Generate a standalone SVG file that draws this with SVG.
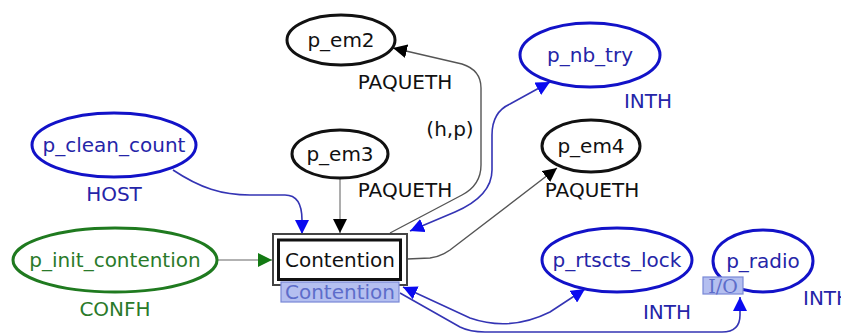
<svg xmlns="http://www.w3.org/2000/svg" width="841" height="334" viewBox="0 0 841 334">
<defs>
<style>
text{font-family:"DejaVu Sans",Verdana,sans-serif;font-size:20px}
.pb{fill:none;stroke:#1212c8;stroke-width:3}
.pk{fill:none;stroke:#111;stroke-width:3}
.pg{fill:none;stroke:#1f7a1f;stroke-width:3}
.tb{fill:#2525a8}
.tk{fill:#111}
.tg{fill:#2a7a2a}
.lb{fill:none;stroke:#3434b4;stroke-width:1.6}
.lk{fill:none;stroke:#555;stroke-width:1.4}
.lgr{fill:none;stroke:#999;stroke-width:1.6}
.tag{fill:#b4bff0;stroke:#7888d6;stroke-width:1.2}
.tagt{fill:#5d6dca}
</style>
<marker id="ab" markerUnits="userSpaceOnUse" markerWidth="14" markerHeight="14" viewBox="0 0 14 14" refX="14" refY="7" orient="auto-start-reverse"><path d="M0,0 L14,7 L0,14 z" fill="#0a0af0"/></marker>
<marker id="ak" markerUnits="userSpaceOnUse" markerWidth="14" markerHeight="14" viewBox="0 0 14 14" refX="14" refY="7" orient="auto-start-reverse"><path d="M0,0 L14,7 L0,14 z" fill="#000"/></marker>
<marker id="ag" markerUnits="userSpaceOnUse" markerWidth="14" markerHeight="14" viewBox="0 0 14 14" refX="14" refY="7" orient="auto-start-reverse"><path d="M0,0 L14,7 L0,14 z" fill="#137a13"/></marker>
</defs>
<rect width="841" height="334" fill="#fff"/>
<g id="connectors">
<path class="lb" d="M173,170 C200,188 222,195 250,195 L285,195 C298,195 302,206 302,220 L302,234" marker-end="url(#ab)"/>
<path class="lgr" d="M340,178 L340,233" marker-end="url(#ak)"/>
<path class="lgr" d="M217,260 L272,260" marker-end="url(#ag)"/>
<path class="lk" d="M390,233 L462,195 Q481,185 481,165 L481,88 Q481,70 462,64 L393,48" marker-end="url(#ak)"/>
<path class="lb" d="M410,231 L455,212 Q492,196 492,170 L492,135 Q492,112 510,104 L550,82" marker-start="url(#ab)" marker-end="url(#ab)"/>
<path class="lk" d="M407,259 L430,258 Q440,257 450,250 L557,168" marker-end="url(#ak)"/>
<path class="lb" d="M403,287 L470,318 Q510,332 550,312 L585,289" marker-start="url(#ab)" marker-end="url(#ab)"/>
<path class="lb" d="M400,293 L460,327 Q470,332 485,332 L722,332 Q740,332 740,315 L740,297" marker-end="url(#ab)"/>
</g>
<g id="p_em2"><ellipse class="pk" cx="341" cy="40" rx="54" ry="25"/><text class="tk" x="341" y="47" text-anchor="middle">p_em2</text><text class="tk" x="405" y="89" text-anchor="middle">PAQUETH</text></g>
<g id="p_nb_try"><ellipse class="pb" cx="590" cy="55" rx="70" ry="32"/><text class="tb" x="590" y="62" text-anchor="middle">p_nb_try</text><text class="tb" x="648" y="108" text-anchor="middle">INTH</text></g>
<g id="p_em3"><ellipse class="pk" cx="340" cy="154" rx="48" ry="24"/><text class="tk" x="340" y="161" text-anchor="middle">p_em3</text><text class="tk" x="405" y="197" text-anchor="middle">PAQUETH</text></g>
<text class="tk" x="450" y="136" text-anchor="middle">(h,p)</text>
<g id="p_em4"><ellipse class="pk" cx="591" cy="146" rx="49" ry="26"/><text class="tk" x="591" y="153" text-anchor="middle">p_em4</text><text class="tk" x="592" y="197" text-anchor="middle">PAQUETH</text></g>
<g id="p_clean_count"><ellipse class="pb" cx="114" cy="145" rx="82" ry="32"/><text class="tb" x="114" y="152" text-anchor="middle">p_clean_count</text><text class="tb" x="114" y="201" text-anchor="middle">HOST</text></g>
<g id="p_init_contention"><ellipse class="pg" cx="115" cy="260" rx="102" ry="32"/><text class="tg" x="115" y="267" text-anchor="middle">p_init_contention</text><text class="tg" x="115" y="316" text-anchor="middle">CONFH</text></g>
<g id="Contention">
<rect x="273" y="234" width="134" height="51" fill="#fff" stroke="#444" stroke-width="2"/>
<rect x="278.5" y="240" width="122" height="39.5" fill="#fff" stroke="#111" stroke-width="3"/>
<text class="tk" x="340" y="267" text-anchor="middle">Contention</text>
<rect class="tag" x="281" y="282" width="118" height="20"/>
<text class="tagt" x="340" y="299" text-anchor="middle">Contention</text>
</g>
<g id="p_rtscts_lock"><ellipse class="pb" cx="617" cy="260" rx="75" ry="32"/><text class="tb" x="617" y="267" text-anchor="middle">p_rtscts_lock</text><text class="tb" x="667" y="319" text-anchor="middle">INTH</text></g>
<g id="p_radio"><ellipse class="pb" cx="763" cy="261" rx="50" ry="31"/><text class="tb" x="763" y="268" text-anchor="middle">p_radio</text>
<rect class="tag" x="703" y="277" width="40" height="17"/><text class="tagt" x="723" y="292.5" text-anchor="middle" style="font-family:'DejaVu Serif',serif;font-size:19px">I/O</text>
<text class="tb" x="803" y="305">INTH</text></g>
</svg>
